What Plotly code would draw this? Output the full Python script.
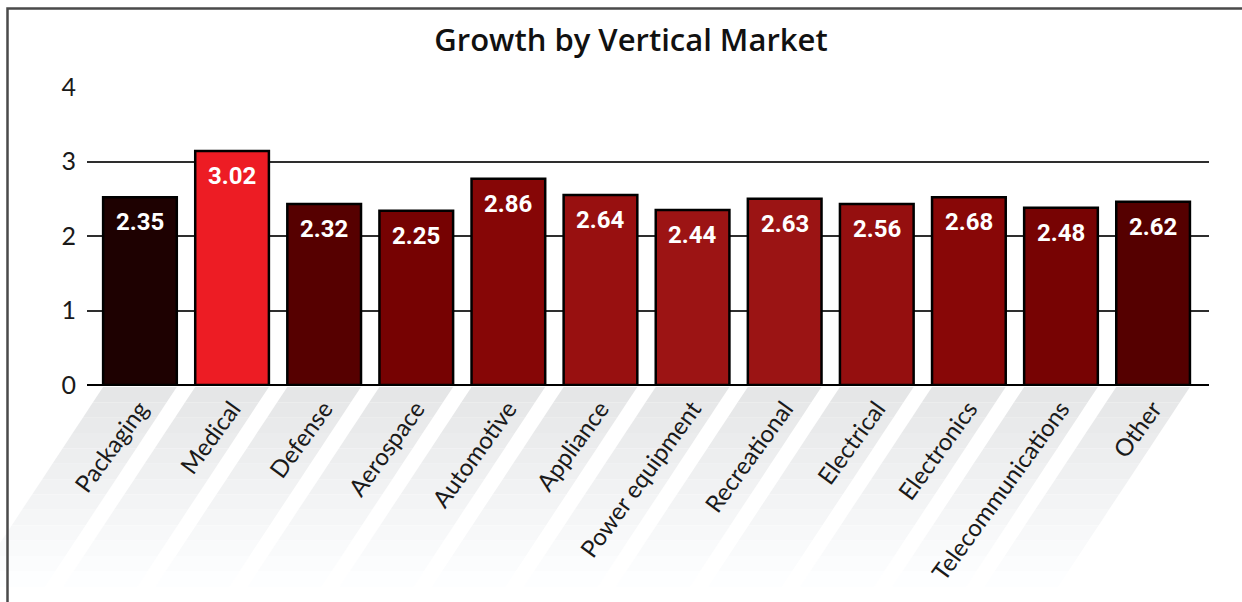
import plotly.graph_objects as go

categories = ["Packaging", "Medical", "Defense", "Aerospace", "Automotive", "Appliance",
              "Power equipment", "Recreational", "Electrical", "Electronics",
              "Telecommunications", "Other"]
bar_heights = [2.52, 3.14, 2.43, 2.34, 2.77, 2.55, 2.35, 2.50, 2.43, 2.52, 2.38, 2.46]
value_labels = ["2.35", "3.02", "2.32", "2.25", "2.86", "2.64", "2.44", "2.63", "2.56",
                "2.68", "2.48", "2.62"]
bar_colors = ["#1e0101", "#ed1c24", "#560000", "#760202", "#860606", "#981010",
              "#9c1414", "#9b1414", "#950f0f", "#880707", "#770303", "#550000"]
y_ticks = [0, 1, 2, 3, 4]

W, H = 1242, 602
ML, MR, MT, MB = 87, 33, 87, 217
PW, PH = W - ML - MR, H - MT - MB
X0, X1 = -0.575, 11.607
BAR_W = 0.8

def px_x(v):
    return ML + (v - X0) / (X1 - X0) * PW

def paper_x(px):
    return (px - ML) / PW

def paper_y(py_top):
    return (H - py_top - MB) / PH

fig = go.Figure()
fig.add_trace(go.Bar(
    x=list(range(len(categories))), y=bar_heights, width=BAR_W,
    marker=dict(color=bar_colors, line=dict(color="#000000", width=2.5)),
    hoverinfo="skip", showlegend=False,
))

# value labels
annotations = []
for i, (h, lab) in enumerate(zip(bar_heights, value_labels)):
    annotations.append(dict(
        x=i, y=h, xref="x", yref="y", text="<b>%s</b>" % lab, showarrow=False,
        yanchor="top", yshift=-9,
        font=dict(family="Roboto, sans-serif", size=24, color="white"),
    ))

# diagonal grey bands beneath labels
shapes = []
slope = 0.66
top_py, bot_py = 387, 602
n_slices = 14
for i in range(len(categories)):
    xl = px_x(i - BAR_W / 2)
    xr = px_x(i + BAR_W / 2)
    for s in range(n_slices):
        ya = top_py + (bot_py - top_py) * s / n_slices
        yb = top_py + (bot_py - top_py) * (s + 1) / n_slices
        t = (s + 0.5) / n_slices
        c = int(229 + (256 - 229) * t)
        c = min(255, c)
        col = "rgb(%d,%d,%d)" % (c, min(255, c + 1), min(255, c + 2))
        pts = [(xl - slope * (ya - top_py), ya), (xr - slope * (ya - top_py), ya),
               (xr - slope * (yb - top_py), yb), (xl - slope * (yb - top_py), yb)]
        path = "M " + " L ".join("%f,%f" % (paper_x(px), paper_y(py)) for px, py in pts) + " Z"
        shapes.append(dict(type="path", path=path, xref="paper", yref="paper",
                           fillcolor=col, line=dict(width=0), layer="below"))

# frame (top and left)
fx = paper_x(7.5)
fy = paper_y(8.5)
shapes.append(dict(type="path", xref="paper", yref="paper",
                   path="M %f,%f L %f,%f L %f,%f" % (fx, paper_y(H + 5), fx, fy, paper_x(W + 5), fy),
                   line=dict(color="#4a4a4a", width=2.5), layer="above"))

fig.update_layout(
    width=W, height=H,
    margin=dict(l=ML, r=MR, t=MT, b=MB),
    paper_bgcolor="white", plot_bgcolor="rgba(0,0,0,0)",
    title=dict(text="Growth by Vertical Market", x=631 / W, y=1 - 40 / H,
               xanchor="center", yanchor="middle", xref="container", yref="container",
               font=dict(family="'Open Sans', Lato, sans-serif", size=31, weight=600,
                         color="#111111")),
    xaxis=dict(range=[X0, X1], tickmode="array", tickvals=list(range(len(categories))),
               ticktext=categories, tickangle=-54, showgrid=False, zeroline=False,
               showline=False, ticks="", ticklabelstandoff=4,
               tickfont=dict(family="Lato, 'Open Sans', sans-serif", size=24, color="#1a1a1a")),
    yaxis=dict(range=[0, 4], tickvals=y_ticks, showgrid=True, gridcolor="#2e2e2e",
               gridwidth=1.5, zeroline=True, zerolinecolor="#000000", zerolinewidth=2.2,
               showline=False, ticks="", ticklabelstandoff=10,
               tickfont=dict(family="Lato, 'Open Sans', sans-serif", size=25, color="#1a1a1a")),
    annotations=annotations, shapes=shapes, bargap=0.2,
)
fig.write_html("out.html")
